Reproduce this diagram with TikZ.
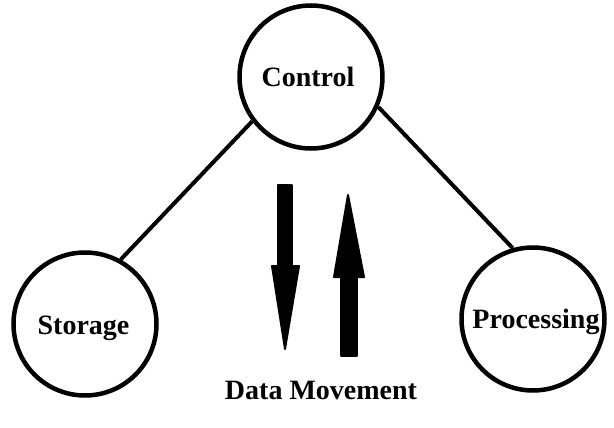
\documentclass[tikz,border=0pt]{standalone}
\usepackage{fontspec}
\setmainfont{Liberation Serif}
\begin{document}
\begin{tikzpicture}[x=1pt,y=-1pt,
  blob/.style={circle,draw=black,line width=4.5pt,minimum size=143pt,inner sep=0pt},
  lbl/.style={font=\fontsize{28}{30}\selectfont\bfseries,anchor=base,inner sep=0pt},
  link/.style={line width=4pt},
  fat/.style={fill=black,draw=black,line width=2pt,line join=round}]
\useasboundingbox[fill=white] (0,0) rectangle (614,428);
\node[blob] (control) at (311,77) {};
\node[blob] (storage) at (85,324) {};
\node[blob] (processing) at (533,319) {};
\node[lbl] (tc) at (308,87) {Control};
\node[lbl] (ts) at (83.5,334) {Storage};
\node[lbl] (tp) at (536,328) {Processing};
\node[lbl] (td) at (321,399) {Data Movement};
\draw[link] (control.217) -- (storage.61);
\draw[link] (control.-24) -- (processing.106);
% down arrow
\filldraw[fat] (278,185) rectangle (292,266);
\filldraw[fat] (272,266) -- (299,266) -- (285,349) -- cycle;
% up arrow
\filldraw[fat] (341,276) rectangle (357,356);
\filldraw[fat] (334,277) -- (364,277) -- (348,195) -- cycle;
\end{tikzpicture}
\end{document}
